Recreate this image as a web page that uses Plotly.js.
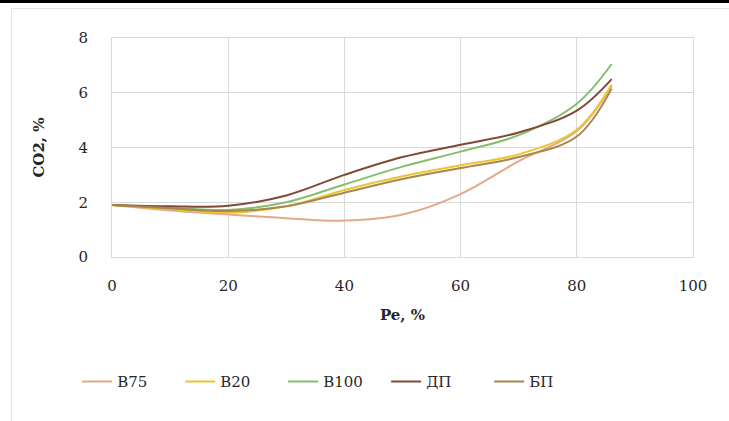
<!DOCTYPE html>
<html><head><meta charset="utf-8">
<script src="https://cdn.plot.ly/plotly-3.0.1.min.js"></script>
<style>
html,body{margin:0;padding:0;background:#fff;}
#wrap{position:relative;width:729px;height:421px;overflow:hidden;}
#topbar{position:absolute;left:0;top:0;width:729px;height:3px;background:#000;z-index:5;}
#frameTop{position:absolute;left:11px;top:8px;width:718px;height:1px;background:#e4e4e4;z-index:5;}
#frameLeft{position:absolute;left:11px;top:8px;width:1px;height:413px;background:#e4e4e4;z-index:5;}
#chart{position:absolute;left:0;top:0;width:729px;height:421px;}
</style></head>
<body><div id="wrap"><div id="topbar"></div><div id="frameTop"></div><div id="frameLeft"></div><div id="chart"></div></div>
<script>
const xPe = [0, 10, 20, 30, 40, 50, 60, 70, 80, 86];
const B75 = [1.9, 1.7, 1.55, 1.42, 1.33, 1.55, 2.3, 3.5, 4.6, 6.25];
const B20 = [1.9, 1.75, 1.62, 1.85, 2.45, 2.95, 3.35, 3.75, 4.65, 6.3];
const B100 = [1.9, 1.8, 1.72, 2.0, 2.65, 3.3, 3.85, 4.45, 5.6, 7.05];
const DP = [1.9, 1.85, 1.87, 2.25, 3.0, 3.65, 4.1, 4.55, 5.35, 6.5];
const BP = [1.9, 1.78, 1.68, 1.85, 2.35, 2.85, 3.25, 3.65, 4.4, 6.15];
const names = ['B75', 'B20', 'B100', 'ДП', 'БП'];
const colors = ['#E3A98A', '#EBC630', '#86BD6E', '#7E4A36', '#A8874E'];
const series = [B75, B20, B100, DP, BP];
const xTicks = [0, 20, 40, 60, 80, 100];
const yTicks = [0, 2, 4, 6, 8];

const font = 'DejaVu Serif';
const traces = series.map((s, i) => ({
  x: xPe, y: s, name: names[i], type: 'scatter', mode: 'lines',
  line: {color: colors[i], width: 2, shape: 'spline', smoothing: 1}
}));

const layout = {
  width: 729, height: 421,
  margin: {l: 112, r: 36, t: 38, b: 164, autoexpand: false},
  paper_bgcolor: 'rgba(0,0,0,0)', plot_bgcolor: '#fff',
  font: {family: font, size: 15, color: '#262626'},
  showlegend: true,
  legend: {orientation: 'h', x: -0.06, xanchor: 'left', y: -0.57, yanchor: 'middle',
    font: {family: font, size: 15, color: '#262626'}, entrywidth: 58, entrywidthmode: 'pixels',
    traceorder: 'normal'},
  xaxis: {range: [0, 100], tickvals: xTicks, ticktext: xTicks.map(String), automargin: false,
    showgrid: true, gridcolor: '#d9d9d9', gridwidth: 1, zeroline: false,
    showline: true, linecolor: '#d9d9d9', mirror: true,
    ticks: 'outside', ticklen: 15, tickcolor: 'rgba(0,0,0,0)',
    tickfont: {family: font, size: 15, color: '#262626'},
    title: {text: '<b>Pe, %</b>', font: {family: font, size: 15, color: '#262626'}, standoff: 15}},
  yaxis: {range: [0, 8], tickvals: yTicks, ticktext: yTicks.map(String), automargin: false,
    showgrid: true, gridcolor: '#d9d9d9', gridwidth: 1, zeroline: false,
    showline: true, linecolor: '#d9d9d9', mirror: true,
    ticks: 'outside', ticklen: 20, tickcolor: 'rgba(0,0,0,0)',
    tickfont: {family: font, size: 15, color: '#262626'},
    title: {text: '<b>CO2, %</b>', font: {family: font, size: 15, color: '#262626'}, standoff: 30}}
};
Plotly.newPlot('chart', traces, layout, {displayModeBar: false, staticPlot: true});
</script></body></html>
